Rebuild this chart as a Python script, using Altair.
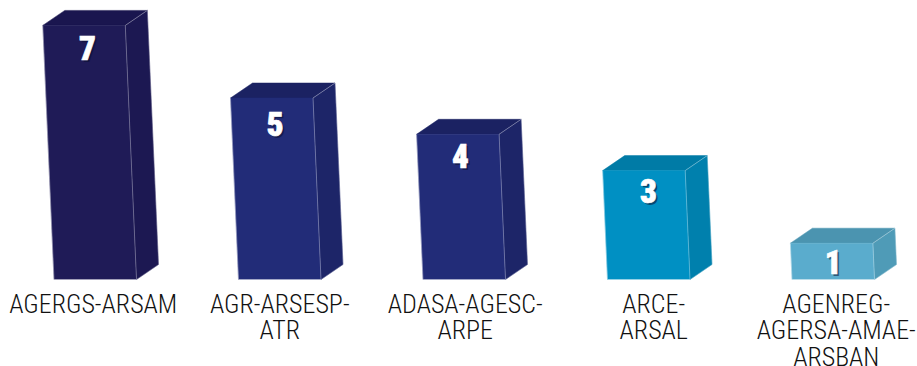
import altair as alt
import pandas as pd

# Chart content
categories = [
    "AGERGS-ARSAM",
    "AGR-ARSESP-\nATR",
    "ADASA-AGESC-\nARPE",
    "ARCE-\nARSAL",
    "AGENREG-\nAGERSA-AMAE-\nARSBAN",
]
values = [7, 5, 4, 3, 1]

# One shade per visible face of each block
front_colors = ["#1f1b57", "#222c78", "#222c78", "#0090c3", "#5aaccd"]
side_colors = ["#1c1852", "#1d2568", "#1d2568", "#0080ad", "#4f9bb7"]
top_colors = ["#1a164f", "#1b2262", "#1b2262", "#007ba6", "#4b94b0"]

# Block proportions, in pixels of the drawing
WIDTH, HEIGHT = 917, 366
PX_PER_INDEX = 184.5   # distance between neighbouring blocks
PX_PER_VALUE = 36.3    # block height for one count
LEFT_PAD = 54.0        # left edge of the first block's foot
BASE_Y = 279.5         # ground line
FACE_W = 82.5          # front face width
DEPTH_X, DEPTH_Y = 22.0, 15.0   # extrusion towards the back
LEAN = 1.6             # sideways lean of the block per count

# Small per-block refinements of where the texts sit
label_nudge = [-2, 0, 1, 5, 3]
digit_drop = [9, 12, 8, 6, 5]
digit_nudge = [3.5, 3.5, 2.5, 4.5, 1.5]

CONDENSED = "Roboto Condensed, Open Sans Condensed, Noto Sans Condensed, DejaVu Sans Condensed, Roboto"

x_domain = [-LEFT_PAD / PX_PER_INDEX, (WIDTH - LEFT_PAD) / PX_PER_INDEX]
y_domain = [(BASE_Y - HEIGHT) / PX_PER_VALUE, BASE_Y / PX_PER_VALUE]
x_scale = alt.Scale(domain=x_domain, nice=False, zero=False)
y_scale = alt.Scale(domain=y_domain, nice=False, zero=False)


def dx(px):
    return px / PX_PER_INDEX


def dy(px):
    return px / PX_PER_VALUE


faces, edges, digits, labels = [], [], [], []
for i, (name, v) in enumerate(zip(categories, values)):
    lean = dx(LEAN * v)
    w = dx(FACE_W)
    bl = (i, 0.0)
    br = (i + w, 0.0)
    tl = (i - lean, v)
    tr = (i - lean + w, v)
    back = (dx(DEPTH_X), dy(DEPTH_Y))
    shift = lambda p: (p[0] + back[0], p[1] + back[1])

    polygons = {
        "top": ([tl, tr, shift(tr), shift(tl)], top_colors[i]),
        "side": ([tr, shift(tr), shift(br), br], side_colors[i]),
        "front": ([tl, tr, br, bl], front_colors[i]),
    }
    for face, (points, fill) in polygons.items():
        for seq, (px, py) in enumerate(points):
            faces.append(
                {"face": f"{i}-{face}", "seq": seq, "x": px, "y": py, "fill": fill}
            )

    # Thin highlights along the block's edges
    for a, b, alpha in [
        (tl, bl, 0.35),
        (bl, br, 0.45),
        (tr, br, 0.3),
        (tr, shift(tr), 0.35),
        (shift(tr), shift(br), 0.15),
        (br, shift(br), 0.15),
    ]:
        edges.append(
            {"x": a[0], "y": a[1], "x2": b[0], "y2": b[1], "alpha": alpha}
        )

    digits.append(
        {
            "text": str(v),
            "x": tl[0] + w / 2 + dx(digit_nudge[i]),
            "y": v - dy(digit_drop[i]),
        }
    )
    labels.append({"text": name, "x": i + w / 2 + dx(label_nudge[i])})

x_enc = alt.X("x:Q", scale=x_scale, axis=None)
y_enc = alt.Y("y:Q", scale=y_scale, axis=None)

blocks = (
    alt.Chart(pd.DataFrame(faces))
    .mark_line(interpolate="linear-closed", strokeWidth=0.5)
    .encode(
        x=x_enc,
        y=y_enc,
        detail="face:N",
        order="seq:Q",
        fill=alt.Fill("fill:N", scale=None),
        stroke=alt.Stroke("fill:N", scale=None),
    )
)

edge_lines = (
    alt.Chart(pd.DataFrame(edges))
    .mark_rule(color="white", strokeWidth=1)
    .encode(
        x=x_enc,
        y=y_enc,
        x2="x2:Q",
        y2="y2:Q",
        opacity=alt.Opacity("alpha:Q", scale=None),
    )
)

digit_font = dict(
    font=CONDENSED,
    fontWeight=900,
    fontSize=33,
    align="center",
    baseline="top",
)
digit_data = alt.Chart(pd.DataFrame(digits))
digit_shadow = digit_data.mark_text(
    color="#0b1030", opacity=0.55, dx=2, dy=2, **digit_font
).encode(x=x_enc, y=y_enc, text="text:N")
digit_text = digit_data.mark_text(
    color="white", stroke="white", strokeWidth=0.7, **digit_font
).encode(x=x_enc, y=y_enc, text="text:N")

label_text = (
    alt.Chart(pd.DataFrame(labels))
    .mark_text(
        font=CONDENSED,
        fontSize=26,
        fontWeight=300,
        color="#111111",
        align="center",
        baseline="alphabetic",
        lineBreak="\n",
        lineHeight=26.5,
    )
    .encode(x=x_enc, y=alt.value(312.5), text="text:N")
)

chart = (
    alt.layer(blocks, edge_lines, digit_shadow, digit_text, label_text)
    .properties(
        width=WIDTH,
        height=HEIGHT,
        padding=0,
        autosize=alt.AutoSizeParams(type="none"),
        background="white",
    )
    .configure_view(stroke=None)
)

chart.save("out.html", embed_options={"renderer": "svg", "actions": False})
